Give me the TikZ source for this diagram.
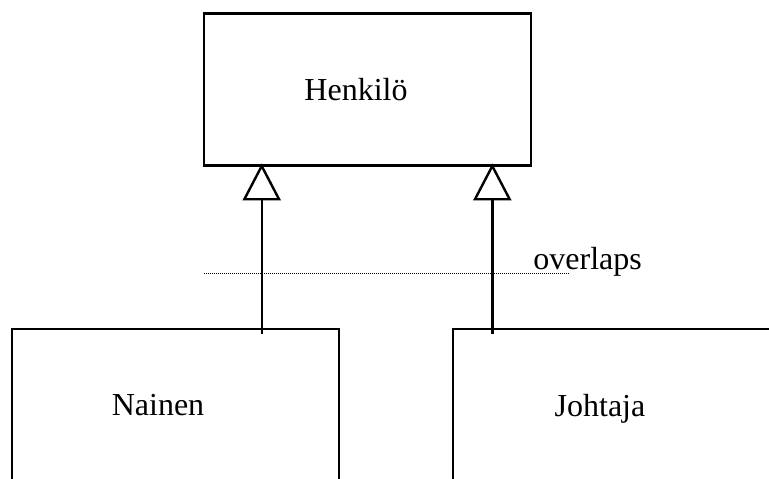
\documentclass[tikz,border=0pt]{standalone}
\usepackage{fontspec}
\setmainfont{Liberation Serif}
\usepackage{tikz}
\usetikzlibrary{arrows.meta,positioning}

\begin{document}
\begin{tikzpicture}[
    x=0.5pt, y=-0.5pt,
    font=\fontsize{16}{19}\selectfont,
    box/.style={
        draw,
        line width=1.1pt,
        minimum width=163.5pt,
        minimum height=76pt,
        inner sep=0pt
    },
    boxtext/.style={text depth=0pt, inner sep=0pt},
    gen/.style={-{Triangle[open, length=18.5pt, width=19pt]}, line width=1.2pt, shorten >=-1.6pt},
    sep/.style={line width=0.5pt, dash pattern=on 0.5pt off 0.5pt}
]
\useasboundingbox (0,0) rectangle (769,478);
\clip (0,0) rectangle (769,478);

\node[box, label={[boxtext, xshift=-5.75pt]center:Henkilö}] (henkilo) at (367.5,89.5) {};
\node[box, label={[boxtext, xshift=-8.75pt]center:Nainen}] (nainen) at (175.5,405) {};
\node[box, label={[boxtext, xshift=-8.25pt]center:Johtaja}] (johtaja) at (616.5,405) {};
\node[anchor=base west, inner sep=0pt] (overlaps) at (533,269) {overlaps};

\coordinate (nainentail) at (261.7,334);
\coordinate (johtajatail) at (492.3,334);

\draw[sep] (204,273.3) -- (570,273.3);
\draw[gen] (nainentail) -- (nainentail |- henkilo.south);
\draw[gen] (johtajatail) -- (johtajatail |- henkilo.south);
\end{tikzpicture}
\end{document}
